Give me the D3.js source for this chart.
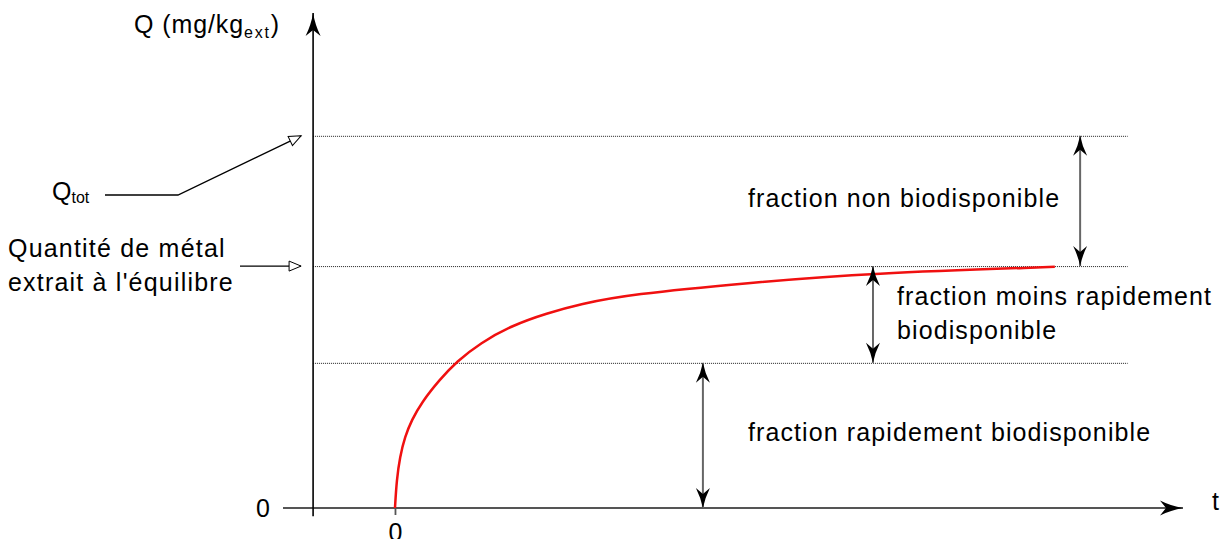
<!DOCTYPE html>
<html>
<head>
<meta charset="utf-8">
<script src="https://cdn.jsdelivr.net/npm/d3@7"></script>
<style>
    body { margin: 0; background: #fff; }
    svg text { font-family: "Liberation Sans", Arial, sans-serif; fill: #000; }
</style>
</head>
<body>
<svg id="chart" width="1220" height="539"></svg>
<script>
// kinetic extraction curve Q(t)
const curveT = [0, 0.24, 0.71, 1.43, 2.39, 3.81, 6.43, 8.81, 12.14, 16.9, 21.67, 26.43, 33.57, 50.29, 67.86, 94.29];
const curveQ = [0, 7.5, 13.8, 19.2, 23.6, 28.4, 34.6, 39.3, 44.3, 49.2, 52.3, 54.8, 57.4, 60.5, 63.1, 64.8];

// reference levels (Qtot, equilibrium, rapidly available part)
const levelNames = ['Qtot', 'equilibre', 'rapide'];
const levelValues = [100, 65, 39];

// fractions: [from level, to level, arrow position t]
const fractionLabels = [
    ['fraction non biodisponible'],
    ['fraction moins rapidement', 'biodisponible'],
    ['fraction rapidement biodisponible'],
];
const fractionFrom = [65, 39, 0];
const fractionTo = [100, 65, 39];
const fractionT = [97.9, 68.3, 44];

const tMin = -16;
const tMax = 112.6;
const tYAxis = -11.7;
const tLevelEnd = 104.7;
const qMax = 133;

const svg = d3.select('#chart');

const x = d3.scaleLinear().domain([tMin, tMax]).range([283, 1183]);
const y = d3.scaleLinear().domain([0, qMax]).range([508, 13]);

const defs = svg.append('defs');
// barbed arrow heads, a big one for the axes, a smaller one for the fractions
defs.append('marker')
    .attr('id', 'barbAxis')
    .attr('viewBox', '-24 -8 26 16')
    .attr('refX', 0).attr('refY', 0)
    .attr('markerWidth', 26).attr('markerHeight', 16)
    .attr('markerUnits', 'userSpaceOnUse')
    .attr('orient', 'auto')
    .append('path')
    .attr('d', 'M0,0 Q-12,-2 -23,-7.5 L-17,0 L-23,7.5 Q-12,2 0,0 Z')
    .attr('fill', '#000');
defs.append('marker')
    .attr('id', 'barb')
    .attr('viewBox', '-22 -8 24 16')
    .attr('refX', 0).attr('refY', 0)
    .attr('markerWidth', 24).attr('markerHeight', 16)
    .attr('markerUnits', 'userSpaceOnUse')
    .attr('orient', 'auto-start-reverse')
    .append('path')
    .attr('d', 'M0,0 Q-10,-2 -20,-7 L-14,0 L-20,7 Q-10,2 0,0 Z')
    .attr('fill', '#000');
defs.append('marker')
    .attr('id', 'open')
    .attr('viewBox', '-14 -7 16 14')
    .attr('refX', 0).attr('refY', 0)
    .attr('markerWidth', 16).attr('markerHeight', 14)
    .attr('markerUnits', 'userSpaceOnUse')
    .attr('orient', 'auto')
    .append('path')
    .attr('d', 'M0,0 L-12,-5 L-12,5 Z')
    .attr('fill', '#fff')
    .attr('stroke', '#000')
    .attr('stroke-width', 1);

// dotted level lines
svg.append('g').selectAll('line')
    .data(levelValues)
    .join('line')
    .attr('x1', x(tYAxis)).attr('x2', x(tLevelEnd))
    .attr('y1', (d) => y(d) + 0.5).attr('y2', (d) => y(d) + 0.5)
    .attr('stroke', '#222')
    .attr('stroke-width', 1)
    .attr('stroke-dasharray', '1,1');

// x axis line
svg.append('line')
    .attr('x1', x(tMin)).attr('x2', x(tMax))
    .attr('y1', y(0)).attr('y2', y(0))
    .attr('stroke', '#555')
    .attr('stroke-width', 1.8)
    .attr('marker-end', 'url(#barbAxis)');

// y axis line
svg.append('line')
    .attr('x1', x(tYAxis)).attr('x2', x(tYAxis))
    .attr('y1', y(-2.2)).attr('y2', y(qMax))
    .attr('stroke', '#000')
    .attr('stroke-width', 1.6)
    .attr('marker-end', 'url(#barbAxis)');

const xAxis = d3.axisBottom(x).tickValues([0]).tickSize(7).tickPadding(8);
const xLabel = svg.append('g')
    .attr('transform', `translate(0,${y(0)})`)
    .call(xAxis);
xLabel.select('.domain').remove();
xLabel.selectAll('line').attr('stroke', '#555').attr('stroke-width', 1.8);
xLabel.selectAll('text')
    .attr('font-family', '"Liberation Sans", Arial, sans-serif')
    .attr('font-size', 25)
    .attr('fill', '#000');

const yAxis = d3.axisLeft(y).tickValues([0]).tickSize(0).tickPadding(13);
const yLabel = svg.append('g')
    .attr('transform', `translate(${x(tMin)},0)`)
    .call(yAxis);
yLabel.select('.domain').remove();
yLabel.selectAll('text')
    .attr('font-family', '"Liberation Sans", Arial, sans-serif')
    .attr('font-size', 25)
    .attr('fill', '#000');

// red curve
const line = d3.line()
    .x((d, i) => x(curveT[i]))
    .y((d) => y(d))
    .curve(d3.curveBasis);
svg.append('path')
    .datum(curveQ)
    .attr('d', line)
    .attr('fill', 'none')
    .attr('stroke', '#f01010')
    .attr('stroke-width', 2.5);

// double arrows between levels
svg.append('g').selectAll('line')
    .data(fractionT)
    .join('line')
    .attr('x1', (d) => x(d)).attr('x2', (d) => x(d))
    .attr('y1', (d, i) => y(fractionFrom[i]))
    .attr('y2', (d, i) => y(fractionTo[i]))
    .attr('stroke', '#666')
    .attr('stroke-width', 2)
    .attr('marker-start', 'url(#barb)')
    .attr('marker-end', 'url(#barb)');

// fraction labels
const labelX = [748, 897, 748];
const labelY = [207, 305, 441];
fractionLabels.forEach((lines, i) => {
    const t = svg.append('text')
        .attr('font-size', 25)
        .attr('letter-spacing', 1.1);
    lines.forEach((s, j) => {
        t.append('tspan')
            .attr('x', labelX[i])
            .attr('y', labelY[i] + j * 34)
            .text(s);
    });
});

// axis titles
const qTitle = svg.append('text')
    .attr('x', 134).attr('y', 33)
    .attr('font-size', 25)
    .attr('letter-spacing', 0.9);
qTitle.append('tspan').text('Q (mg/kg');
qTitle.append('tspan').attr('font-size', 16).attr('dy', 5).attr('letter-spacing', 1.8).text('ext');
qTitle.append('tspan').attr('dy', -5).text(')');

svg.append('text')
    .attr('x', 1212).attr('y', 510)
    .attr('font-size', 25)
    .text('t');

// Qtot leader
const qtot = svg.append('text')
    .attr('x', 52).attr('y', 200)
    .attr('font-size', 25);
qtot.append('tspan').text('Q');
qtot.append('tspan').attr('font-size', 16).attr('dy', 3).text('tot');

svg.append('path')
    .attr('d', d3.line()([[105, 195], [178, 195], [x(tYAxis) - 12, y(levelValues[0])]]))
    .attr('fill', 'none')
    .attr('stroke', '#000')
    .attr('stroke-width', 1.3)
    .attr('marker-end', 'url(#open)');

// equilibrium leader
const eq = svg.append('text')
    .attr('font-size', 25)
    .attr('letter-spacing', 1.2);
eq.append('tspan').attr('x', 8).attr('y', 257).text('Quantité de métal');
eq.append('tspan').attr('x', 8).attr('y', 291).text('extrait à l\'équilibre');

svg.append('line')
    .attr('x1', 240).attr('x2', x(tYAxis) - 12)
    .attr('y1', y(levelValues[1])).attr('y2', y(levelValues[1]))
    .attr('stroke', '#000')
    .attr('stroke-width', 1.3)
    .attr('marker-end', 'url(#open)');
</script>
</body>
</html>
